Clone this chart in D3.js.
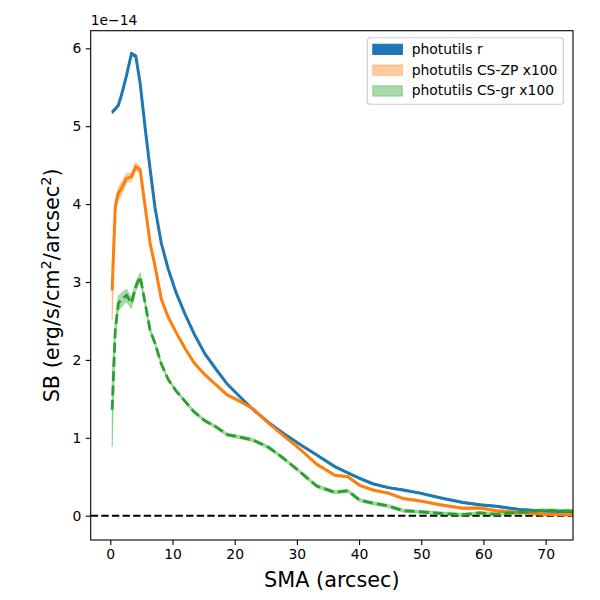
<!DOCTYPE html>
<html>
<head>
<meta charset="utf-8">
<script src="https://cdn.jsdelivr.net/npm/d3@7"></script>
<style>
  body { margin: 0; background: #fff; }
  text { font-family: "DejaVu Sans", sans-serif; fill: #000; }
</style>
</head>
<body>
<svg id="chart" width="600" height="600"></svg>
<script>
// semi-major axis samples (arcsec)
var sma = [0.3, 0.8, 1.3, 1.8, 2.6, 3.4, 4.1, 4.8, 5.6, 6.4, 7.2, 8.2, 9.3, 10.6, 12.0,
  13.5, 15.2, 17.0, 18.8, 20.8, 23.0, 25.4, 27.8, 30.4, 33.2, 36.1, 38.2, 40.1, 42.2,
  44.7, 47.1, 49.8, 53.0, 56.7, 59.4, 62.1, 65.8, 69.6, 73.8, 77.0];

// surface brightness, units of 1e-14
var sbR = [5.18, 5.22, 5.27, 5.40, 5.65, 5.93, 5.90, 5.55, 4.98, 4.45, 3.95, 3.50, 3.17,
  2.86, 2.59, 2.33, 2.08, 1.88, 1.69, 1.53, 1.36, 1.20, 1.06, 0.92, 0.78, 0.63, 0.55,
  0.48, 0.41, 0.36, 0.33, 0.29, 0.23, 0.17, 0.14, 0.12, 0.08, 0.06, 0.05, 0.04];
var errR = [0.02, 0.02, 0.02, 0.02, 0.02, 0.02, 0.02, 0.02, 0.02, 0.02, 0.01, 0.01, 0.01,
  0.01, 0.01, 0.01, 0.01, 0.01, 0.01, 0.01, 0.01, 0.01, 0.01, 0.01, 0.01, 0.01, 0.01,
  0.01, 0.01, 0.01, 0.01, 0.01, 0.01, 0.01, 0.01, 0.01, 0.01, 0.01, 0.01, 0.01];

var sbZP = [2.89, 3.97, 4.14, 4.20, 4.33, 4.35, 4.48, 4.44, 3.97, 3.50, 3.20, 2.78, 2.55,
  2.35, 2.15, 1.96, 1.81, 1.68, 1.55, 1.47, 1.37, 1.19, 1.03, 0.86, 0.66, 0.52, 0.50,
  0.39, 0.33, 0.29, 0.22, 0.19, 0.14, 0.095, 0.10, 0.064, 0.04, 0.02, 0.013, 0.01];
var errZP = [0.38, 0.09, 0.08, 0.08, 0.06, 0.05, 0.05, 0.04, 0.03, 0.02, 0.02, 0.015, 0.015,
  0.015, 0.015, 0.015, 0.015, 0.015, 0.015, 0.015, 0.015, 0.015, 0.015, 0.015, 0.015, 0.015,
  0.015, 0.015, 0.015, 0.015, 0.015, 0.015, 0.015, 0.015, 0.015, 0.015, 0.015, 0.015, 0.015, 0.015];

var sbGR = [1.36, 2.38, 2.73, 2.77, 2.83, 2.73, 2.94, 3.07, 2.73, 2.38, 2.21, 1.95, 1.75,
  1.60, 1.47, 1.33, 1.22, 1.14, 1.04, 1.01, 0.97, 0.88, 0.74, 0.57, 0.38, 0.30, 0.32,
  0.20, 0.16, 0.125, 0.064, 0.05, 0.03, 0.013, 0.035, 0.018, 0.044, 0.069, 0.06, 0.055];
var errGR = [0.47, 0.10, 0.09, 0.09, 0.08, 0.07, 0.06, 0.05, 0.04, 0.03, 0.025, 0.02, 0.02,
  0.02, 0.02, 0.02, 0.02, 0.02, 0.02, 0.02, 0.02, 0.02, 0.02, 0.02, 0.02, 0.02, 0.02,
  0.02, 0.02, 0.02, 0.02, 0.02, 0.02, 0.02, 0.02, 0.02, 0.02, 0.02, 0.02, 0.02];

var xTicks = [0, 10, 20, 30, 40, 50, 60, 70];
var yTicks = [0, 1, 2, 3, 4, 5, 6];
var legendLabels = ["photutils r", "photutils CS-ZP x100", "photutils CS-gr x100"];

var margin = {left: 90.7, top: 30.7, right: 573, bottom: 540};
var blue = "#1f77b4", orange = "#ff7f0e", green = "#2ca02c";

var svg = d3.select("#chart");

var x = d3.scaleLinear().domain([-3.15, 74.4]).range([margin.left, margin.right]);
var y = d3.scaleLinear().domain([-0.312, 6.226]).range([margin.bottom, margin.top]);

svg.append("clipPath").attr("id", "clip")
  .append("rect")
    .attr("x", margin.left).attr("y", margin.top)
    .attr("width", margin.right - margin.left)
    .attr("height", margin.bottom - margin.top);

var plot = svg.append("g").attr("clip-path", "url(#clip)");

function rows(vals, errs) {
  return sma.map(function(s, i) { return {x: s, y: vals[i], e: errs[i]}; });
}

var band = d3.area()
  .x(function(d) { return x(d.x); })
  .y0(function(d) { return y(d.y - d.e); })
  .y1(function(d) { return y(d.y + d.e); });
var line = d3.line()
  .x(function(d) { return x(d.x); })
  .y(function(d) { return y(d.y); });

var series = [
  {rows: rows(sbR, errR), color: blue, fillOpacity: 1, dash: null},
  {rows: rows(sbZP, errZP), color: orange, fillOpacity: 0.4, dash: null},
  {rows: rows(sbGR, errGR), color: green, fillOpacity: 0.4, dash: "10,4.3"}
];

// zero reference line
plot.append("line")
  .attr("x1", margin.left).attr("x2", margin.right)
  .attr("y1", y(0)).attr("y2", y(0))
  .attr("stroke", "#000").attr("stroke-width", 2)
  .attr("stroke-dasharray", "7.4,3.2");

series.forEach(function(s) {
  plot.append("path")
    .datum(s.rows)
    .attr("d", band)
    .attr("fill", s.color)
    .attr("fill-opacity", s.fillOpacity)
    .attr("stroke", s.color)
    .attr("stroke-opacity", s.fillOpacity)
    .attr("stroke-width", 0.8);
  plot.append("path")
    .datum(s.rows)
    .attr("d", line)
    .attr("fill", "none")
    .attr("stroke", s.color)
    .attr("stroke-width", s.dash ? 2.8 : 3)
    .attr("stroke-dasharray", s.dash);
});

// axes
var xAxis = svg.append("g")
  .attr("transform", "translate(0," + margin.bottom + ")")
  .call(d3.axisBottom(x).tickValues(xTicks).tickFormat(d3.format("d"))
    .tickSize(4.9).tickPadding(4.4));
var yAxis = svg.append("g")
  .attr("transform", "translate(" + margin.left + ",0)")
  .call(d3.axisLeft(y).tickValues(yTicks).tickFormat(d3.format("d"))
    .tickSize(4.9).tickPadding(4.4));

[xAxis, yAxis].forEach(function(a) {
  a.select(".domain").remove();
  a.selectAll(".tick line").attr("stroke", "#000").attr("stroke-width", 1.1);
  a.selectAll(".tick text")
    .attr("font-family", "DejaVu Sans")
    .attr("font-size", 13.9)
    .attr("fill", "#000");
});

svg.append("rect")
  .attr("x", margin.left).attr("y", margin.top)
  .attr("width", margin.right - margin.left)
  .attr("height", margin.bottom - margin.top)
  .attr("fill", "none").attr("stroke", "#000").attr("stroke-width", 1.1);

// offset text
svg.append("text")
  .attr("x", margin.left).attr("y", 25)
  .attr("font-size", 13.9)
  .text("1e\u221214");

// axis labels
svg.append("text")
  .attr("x", (margin.left + margin.right) / 2).attr("y", 587)
  .attr("text-anchor", "middle")
  .attr("font-size", 20.8)
  .text("SMA (arcsec)");

var yl = svg.append("text")
  .attr("transform", "translate(59," + ((margin.top + margin.bottom) / 2) + ") rotate(-90)")
  .attr("text-anchor", "middle")
  .attr("font-size", 20.8);
yl.append("tspan").text("SB (erg/s/cm");
yl.append("tspan").attr("dy", -8).attr("font-size", 14.6).text("2");
yl.append("tspan").attr("dy", 8).text("/arcsec");
yl.append("tspan").attr("dy", -8).attr("font-size", 14.6).text("2");
yl.append("tspan").attr("dy", 8).text(")");

// legend
var lg = svg.append("g").attr("transform", "translate(367.3,37.7)");
lg.append("rect")
  .attr("width", 196).attr("height", 66.6)
  .attr("rx", 2.8).attr("ry", 2.8)
  .attr("fill", "#fff").attr("fill-opacity", 0.8)
  .attr("stroke", "#cccccc").attr("stroke-width", 1.1);

var items = lg.selectAll(".item")
  .data(series)
  .enter().append("g")
    .attr("class", "item")
    .attr("transform", function(d, i) { return "translate(0," + (i * 20.8) + ")"; });
items.append("rect")
  .attr("x", 5.5).attr("y", 6.5)
  .attr("width", 29.6).attr("height", 10.3)
  .attr("fill", function(d) { return d.color; })
  .attr("fill-opacity", function(d) { return d.fillOpacity; })
  .attr("stroke", function(d) { return d.color; })
  .attr("stroke-opacity", function(d) { return d.fillOpacity; })
  .attr("stroke-width", 1);
items.append("text")
  .attr("x", 44.4).attr("y", 16)
  .attr("font-size", 13.9)
  .text(function(d, i) { return legendLabels[i]; });
</script>
</body>
</html>
